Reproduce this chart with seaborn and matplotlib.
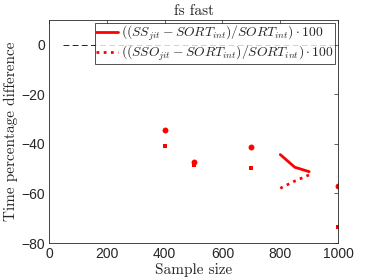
import pandas as pd
import seaborn as sns
import matplotlib.pyplot as plt

# isolated measurements
pt_size = [400, 500, 700, 1000]
pt_ss = [-34.3, -47.4, -41.2, -57.0]
pt_sso = [-40.8, -48.5, -49.6, -73.7]

# connected segment
seg_size = [800, 850, 900]
seg_ss = [-44.3, -49.4, -51.2]
seg_sso = [-57.9, -55.0, -52.5]

ss_label = r'$((SS_{jit} - SORT_{int})/SORT_{int}) \cdot 100$'
sso_label = r'$((SSO_{jit} - SORT_{int})/SORT_{int}) \cdot 100$'

sns.set_style('white')
plt.rcParams['mathtext.fontset'] = 'cm'
plt.rcParams['font.family'] = ['Liberation Sans', 'DejaVu Sans']

fig = plt.figure(figsize=(3.74, 2.79), dpi=100)
ax = fig.add_axes([0.131, 0.129, 0.773, 0.799])

seg = pd.DataFrame({'size': seg_size, 'ss': seg_ss, 'sso': seg_sso})
pts = pd.DataFrame({'size': pt_size, 'ss': pt_ss, 'sso': pt_sso})

# zero reference
sns.lineplot(x=[50, 1000], y=[0, 0], color='black', lw=0.6, ls=(0, (7, 4)), ax=ax)

sns.lineplot(data=seg, x='size', y='ss', color='red', lw=2, ax=ax, label=ss_label)
sns.lineplot(data=seg, x='size', y='sso', color='red', lw=2, ls=(0, (1, 1.6)), ax=ax, label=sso_label)
sns.scatterplot(data=pts, x='size', y='ss', color='red', marker='o', s=18, linewidth=0, ax=ax)
sns.scatterplot(data=pts, x='size', y='sso', color='red', marker='s', s=7, linewidth=0, ax=ax)

ax.set_xlim(0, 1000)
ax.set_ylim(-80, 10)
ax.set_xticks([0, 200, 400, 600, 800, 1000])
ax.set_yticks([-80, -60, -40, -20, 0])
ax.tick_params(direction='in', length=3, width=0.5, labelsize=10, colors='#262626',
               top=True, right=True, pad=3)
for s in ax.spines.values():
    s.set_linewidth(0.6)
    s.set_color('#262626')

serif = dict(family='cmr10', fontsize=11)
ax.set_title('fs fast', pad=4, **serif)
ax.set_xlabel('Sample size', labelpad=1, **serif)
ax.set_ylabel('Time percentage difference', labelpad=2, **serif)

leg = ax.legend(loc='upper right', fontsize=9.8, frameon=True, fancybox=False,
                borderpad=0.1, labelspacing=0.0, handlelength=1.6, handletextpad=0.25,
                borderaxespad=0.2)
leg.get_frame().set_edgecolor('black')
leg.get_frame().set_linewidth(0.6)

fig.savefig('out.png', dpi=100)
